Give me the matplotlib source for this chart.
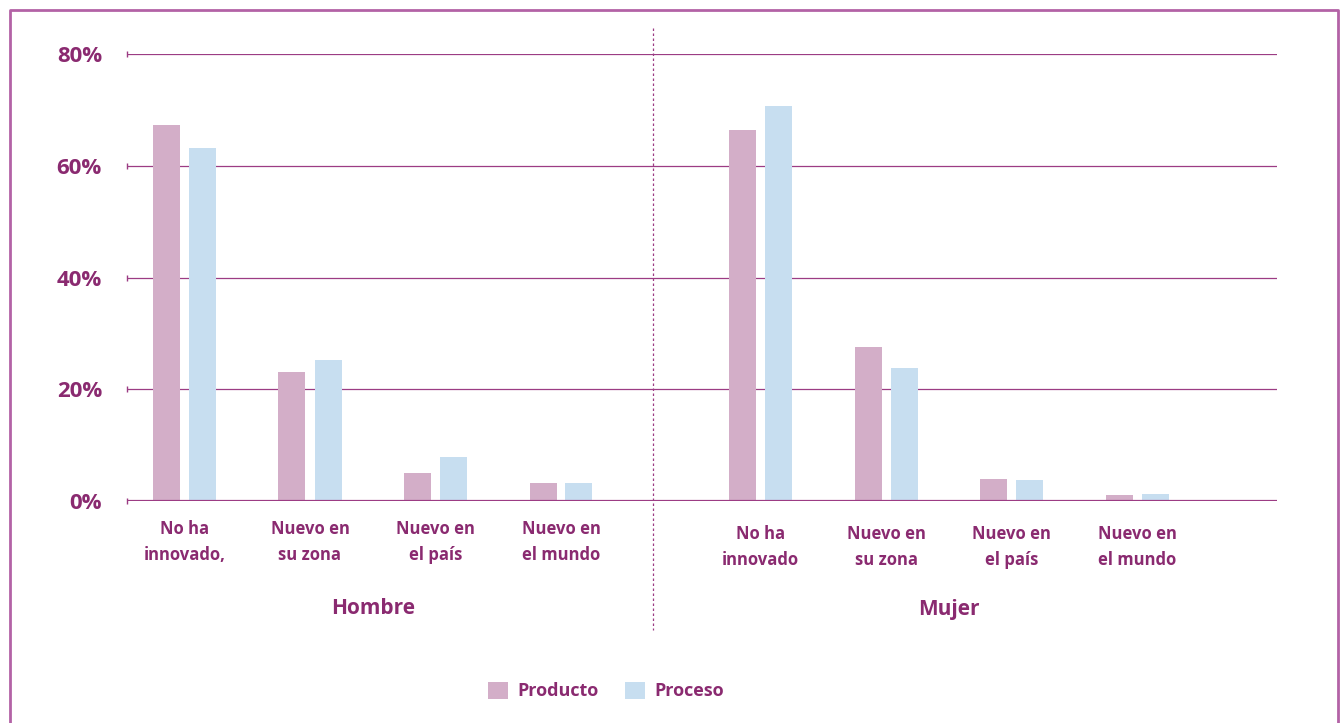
import matplotlib
matplotlib.use("Agg")
import matplotlib.pyplot as plt
from matplotlib.lines import Line2D
import numpy as np

# ---- data ----
groups = ["Hombre", "Mujer"]
categories_h = ["No ha\ninnovado,", "Nuevo en\nsu zona", "Nuevo en\nel país", "Nuevo en\nel mundo"]
categories_m = ["No ha\ninnovado", "Nuevo en\nsu zona", "Nuevo en\nel país", "Nuevo en\nel mundo"]
producto_h = [67.3, 23.1, 5.0, 3.2]
proceso_h = [63.2, 25.2, 7.9, 3.2]
producto_m = [66.4, 27.6, 3.9, 1.1]
proceso_m = [70.7, 23.8, 3.8, 1.3]
yticks = [0, 20, 40, 60, 80]
yticklabels = ["0%", "20%", "40%", "60%", "80%"]
series_names = ["Producto", "Proceso"]

# ---- style ----
W, H = 1340, 723
TXT = "#8A2A70"
GRID = "#9C3C84"
FRAME = "#B362A6"
C_PROD = "#D3AEC8"
C_PROC = "#C7DEF0"
FONT = "Open Sans"

plt.rcParams['font.family'] = [FONT, 'DejaVu Sans']

fig = plt.figure(figsize=(W / 100, H / 100), dpi=100)
fig.patch.set_facecolor("white")

def fx(px):
    return px / W

def fy(py):
    return 1 - py / H

ax_left, ax_right = 127, 1277
ax_top, ax_bot = 54, 501
ax = fig.add_axes([fx(ax_left), fy(ax_bot), fx(ax_right - ax_left), (ax_bot - ax_top) / H])

unit = 125.5
x_h = np.arange(4, dtype=float)
x_m = np.arange(4, dtype=float) + 4.592
xlim = ((ax_left - 184.5) / unit, (ax_right - 184.5) / unit)
bw = 27 / unit
off = 18 / unit

ax.bar(x_h - off, producto_h, bw, color=C_PROD, zorder=3, label=series_names[0])
ax.bar(x_h + off, proceso_h, bw, color=C_PROC, zorder=3, label=series_names[1])
ax.bar(x_m - off, producto_m, bw, color=C_PROD, zorder=3)
ax.bar(x_m + off, proceso_m, bw, color=C_PROC, zorder=3)

ax.set_xlim(*xlim)
ax.set_ylim(0, 80)
for s in ax.spines.values():
    s.set_visible(False)
ax.set_xticks([])
ax.set_yticks(yticks)
ax.set_yticklabels(yticklabels, fontsize=16, fontweight="bold", color=TXT)
ax.tick_params(axis="y", length=0, pad=18)
for yv in yticks:
    lw = 1.6 if yv == 0 else 0.9
    ax.axhline(yv, color=GRID, lw=lw, zorder=2 if yv else 4)
    ax.plot([xlim[0]], [yv], marker="|", ms=4, color=GRID, mew=1, clip_on=False, zorder=4)

# category labels
def axy(py):
    return (ax_bot - py) / (ax_bot - ax_top)

tr = ax.get_xaxis_transform()
for xs, cats, y0 in [(x_h, categories_h, 542), (x_m, categories_m, 547)]:
    for x, c in zip(xs, cats):
        ax.text(x, axy(y0), c, transform=tr, ha="center", va="center",
                fontsize=12, fontweight="bold", color=TXT, linespacing=1.55)

ax.text(x_h.mean(), axy(609), groups[0], transform=tr, ha="center", va="center",
        fontsize=15, fontweight="bold", color=TXT)
ax.text(x_m.mean(), axy(609), groups[1], transform=tr, ha="center", va="center",
        fontsize=15, fontweight="bold", color=TXT)

# divider
fig.add_artist(Line2D([fx(653), fx(653)], [fy(28), fy(630)], color=GRID, lw=0.9,
                      linestyle=(0, (2, 2))))

# frame
fig.add_artist(Line2D([fx(10), fx(10), fx(1338), fx(1338)],
                      [fy(730), fy(10), fy(10), fy(730)], color=FRAME, lw=2))

# legend
leg = fig.legend(loc="center", bbox_to_anchor=(fx(606), fy(691)), ncol=2, frameon=False,
                 handlelength=1.1, handleheight=1.1, handletextpad=0.5, columnspacing=1.5,
                 prop={"family": FONT, "weight": "bold", "size": 13})
for t in leg.get_texts():
    t.set_color(TXT)

fig.savefig("out.png", dpi=100, facecolor="white")
